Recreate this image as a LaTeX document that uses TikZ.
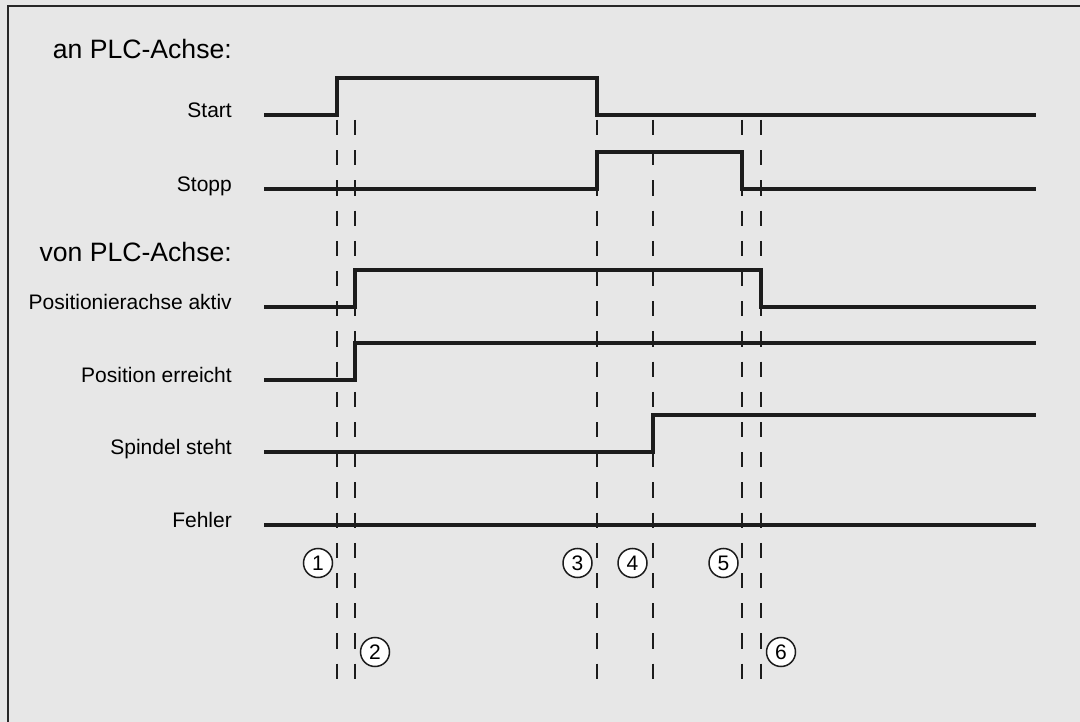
\documentclass[tikz,border=0pt]{standalone}
\usepackage{fontspec}
\setmainfont{Liberation Sans}
\usepackage{tikz}
\usepackage{xcolor}
\usetikzlibrary{calc,positioning}
\definecolor{bggray}{RGB}{231,231,231}
\definecolor{sigline}{RGB}{28,28,28}
\definecolor{frameline}{RGB}{40,40,40}

\tikzset{
  signal/.style={sigline,line width=4pt,line join=miter},
  guide/.style={sigline,line width=2pt,dash pattern=on 15.2pt off 15pt},
  signame/.style={anchor=base east,inner sep=0pt,font=\fontsize{21}{25}\selectfont},
  grouphead/.style={anchor=base east,inner sep=0pt,font=\fontsize{26.6}{32}\selectfont},
  stepmark/.style={circle,draw=sigline,fill=white,line width=1.5pt,minimum size=29pt,
    inner sep=0pt,font=\fontsize{21}{25}\selectfont},
}

\begin{document}
\begin{tikzpicture}[x=1pt,y=-1pt]
  % 背景与边框
  \useasboundingbox (0,0) rectangle (1080,722);
  \fill[bggray] (0,0) rectangle (1080,722);
  \draw[frameline,line width=2pt] (8,722)--(8,6)--(1080,6);
  % 时刻
  \coordinate (t1) at (337,0);
  \coordinate (t2) at (355,0);
  \coordinate (t3) at (597,0);
  \coordinate (t4) at (653,0);
  \coordinate (t5) at (742,0);
  \coordinate (t6) at (761,0);
  % 虚线
  \draw[guide] (t1 |- 0,120)--(t1 |- 0,679);
  \draw[guide] (t2 |- 0,120)--(t2 |- 0,679);
  \draw[guide] (t3 |- 0,120)--(t3 |- 0,679);
  \draw[guide] (t4 |- 0,120)--(t4 |- 0,679);
  \draw[guide] (t5 |- 0,120)--(t5 |- 0,679);
  \draw[guide] (t6 |- 0,120)--(t6 |- 0,679);
  % 标题
  \node[grouphead] (an) at (232,59) {an PLC-Achse:};
  \node[grouphead] (von) at (232,262) {von PLC-Achse:};
  % 信号名称
  \node[signame] (start) at (232,117.5) {Start};
  \node[signame] (stopp) at (232,191.5) {Stopp};
  \node[signame] (aktiv) at (232,309.5) {Positionierachse aktiv};
  \node[signame] (erreicht) at (232,382.5) {Position erreicht};
  \node[signame] (steht) at (232,454.5) {Spindel steht};
  \node[signame] (fehler) at (232,527.5) {Fehler};
  % 波形
  \draw[signal] (264,115)--(t1 |- 0,115)--(t1 |- 0,78)--(t3 |- 0,78)--(t3 |- 0,115)--(1036,115);
  \draw[signal] (264,189)--(t3 |- 0,189)--(t3 |- 0,152)--(t5 |- 0,152)--(t5 |- 0,189)--(1036,189);
  \draw[signal] (264,307)--(t2 |- 0,307)--(t2 |- 0,270)--(t6 |- 0,270)--(t6 |- 0,307)--(1036,307);
  \draw[signal] (264,380)--(t2 |- 0,380)--(t2 |- 0,343)--(1036,343);
  \draw[signal] (264,452)--(t4 |- 0,452)--(t4 |- 0,415)--(1036,415);
  \draw[signal] (264,525)--(1036,525);
  % 编号
  \node[stepmark] (m1) at (318,563) {1};
  \node[stepmark] (m2) at (375,652) {2};
  \node[stepmark] (m3) at (577.5,563) {3};
  \node[stepmark] (m4) at (632.5,563) {4};
  \node[stepmark] (m5) at (723.5,563) {5};
  \node[stepmark] (m6) at (781,652) {6};
\end{tikzpicture}
\end{document}
